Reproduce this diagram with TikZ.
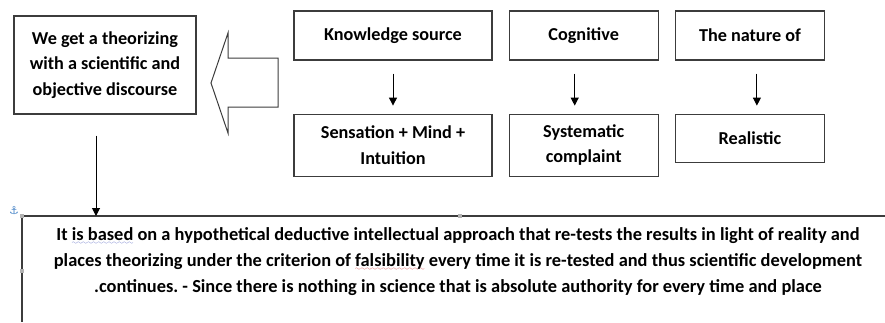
\documentclass[tikz,border=0pt]{standalone}
\usepackage{fontspec}
\setmainfont{Carlito}
\newfontfamily\symbfont{DejaVu Sans}
\usetikzlibrary{positioning, arrows.meta}
\frenchspacing

\definecolor{framegray}{HTML}{3C3C3C}
\definecolor{anchorblue}{HTML}{4A86C8}
\definecolor{wavered}{HTML}{D03030}
\definecolor{waveblue}{HTML}{5060C0}

\font\wavefont=lasy6
\newcommand{\wavyline}[2]{\setbox0\hbox{#2}\rlap{\color{#1}\lower3.5pt\hbox to \wd0{\xleaders\hbox{\wavefont\char58}\hfil}}\box0\relax}
\newcommand{\redwave}[1]{\wavyline{wavered}{#1}}
\newcommand{\bluewave}[1]{\wavyline{waveblue}{#1}}

\begin{document}
\begin{tikzpicture}[x=1pt, y=-1pt,
		box/.style={rectangle, draw=framegray, line width=1.2pt, align=center, inner sep=0pt, font=\bfseries\fontsize{18.2}{25.5}\selectfont},
		wide/.style={box, minimum width=198pt},
		narrow/.style={box, minimum width=149pt},
		bodytext/.style={align=center, font=\bfseries\fontsize{18.4}{26}\selectfont},
		handle/.style={fill=gray!60, minimum size=4pt, inner sep=0pt},
		>={Triangle[length=8pt, width=8pt]}
	]
	\useasboundingbox (0,0) rectangle (885,322);

	\node[box, minimum width=182pt, minimum height=98pt] (result) at (105,65) {We get a theorizing\\with a scientific and\\objective discourse};
	\node[wide, minimum height=49pt] (know) at (393,35.5) {Knowledge source};
	\node[narrow, minimum height=49pt, right=16pt of know] (cog) {Cognitive};
	\node[narrow, minimum height=49pt, right=16pt of cog] (nat) {The nature of};
	\node[wide, minimum height=62pt, below=53pt of know] (sens) {Sensation + Mind +\\Intuition};
	\node[narrow, minimum height=62pt, below=53pt of cog] (sys) {Systematic\\complaint};
	\node[narrow, minimum height=48pt, below=53pt of nat] (real) {Realistic};

	% hollow block arrow
	\draw[draw=framegray, line width=1pt] (211,83) -- (228,33) -- (228,58) -- (278,58) -- (278,107) -- (228,107) -- (228,133) -- cycle;

	\foreach \a/\b/\s in {know/sens/0, cog/sys/-9, nat/real/7}
		\draw[->, line width=1pt, shorten <=13pt, shorten >=8pt] ([xshift=\s pt]\a.south) -- ([xshift=\s pt]\b.north);

	% lower text panel
	\coordinate (panel) at (22,216);
	\draw[draw=framegray, line width=1.2pt] (panel -| 885,0) -- (panel) -- (panel |- 0,322);
	\draw[->, line width=1pt, shorten <=21pt] ([xshift=-9pt]result.south) -- ([xshift=-9pt]result.south |- panel);

	\node[bodytext] (body) at (458,262) {It \bluewave{is based} on a hypothetical deductive intellectual approach that re-tests the results in light of reality and\\
		places theorizing under the criterion of \redwave{falsibility} every time it is re-tested and thus scientific development\\
		.continues. - Since there is nothing in science that is absolute authority for every time and place};

	\node[font=\symbfont\fontsize{11}{11}\selectfont, text=anchorblue] (anchor) at (14,211) {⚓};
	\foreach \p/\n in {{(22,216)}/h1, {(22,271)}/h2, {(460,216)}/h3}
		\node[handle] (\n) at \p {};

\end{tikzpicture}
\end{document}
